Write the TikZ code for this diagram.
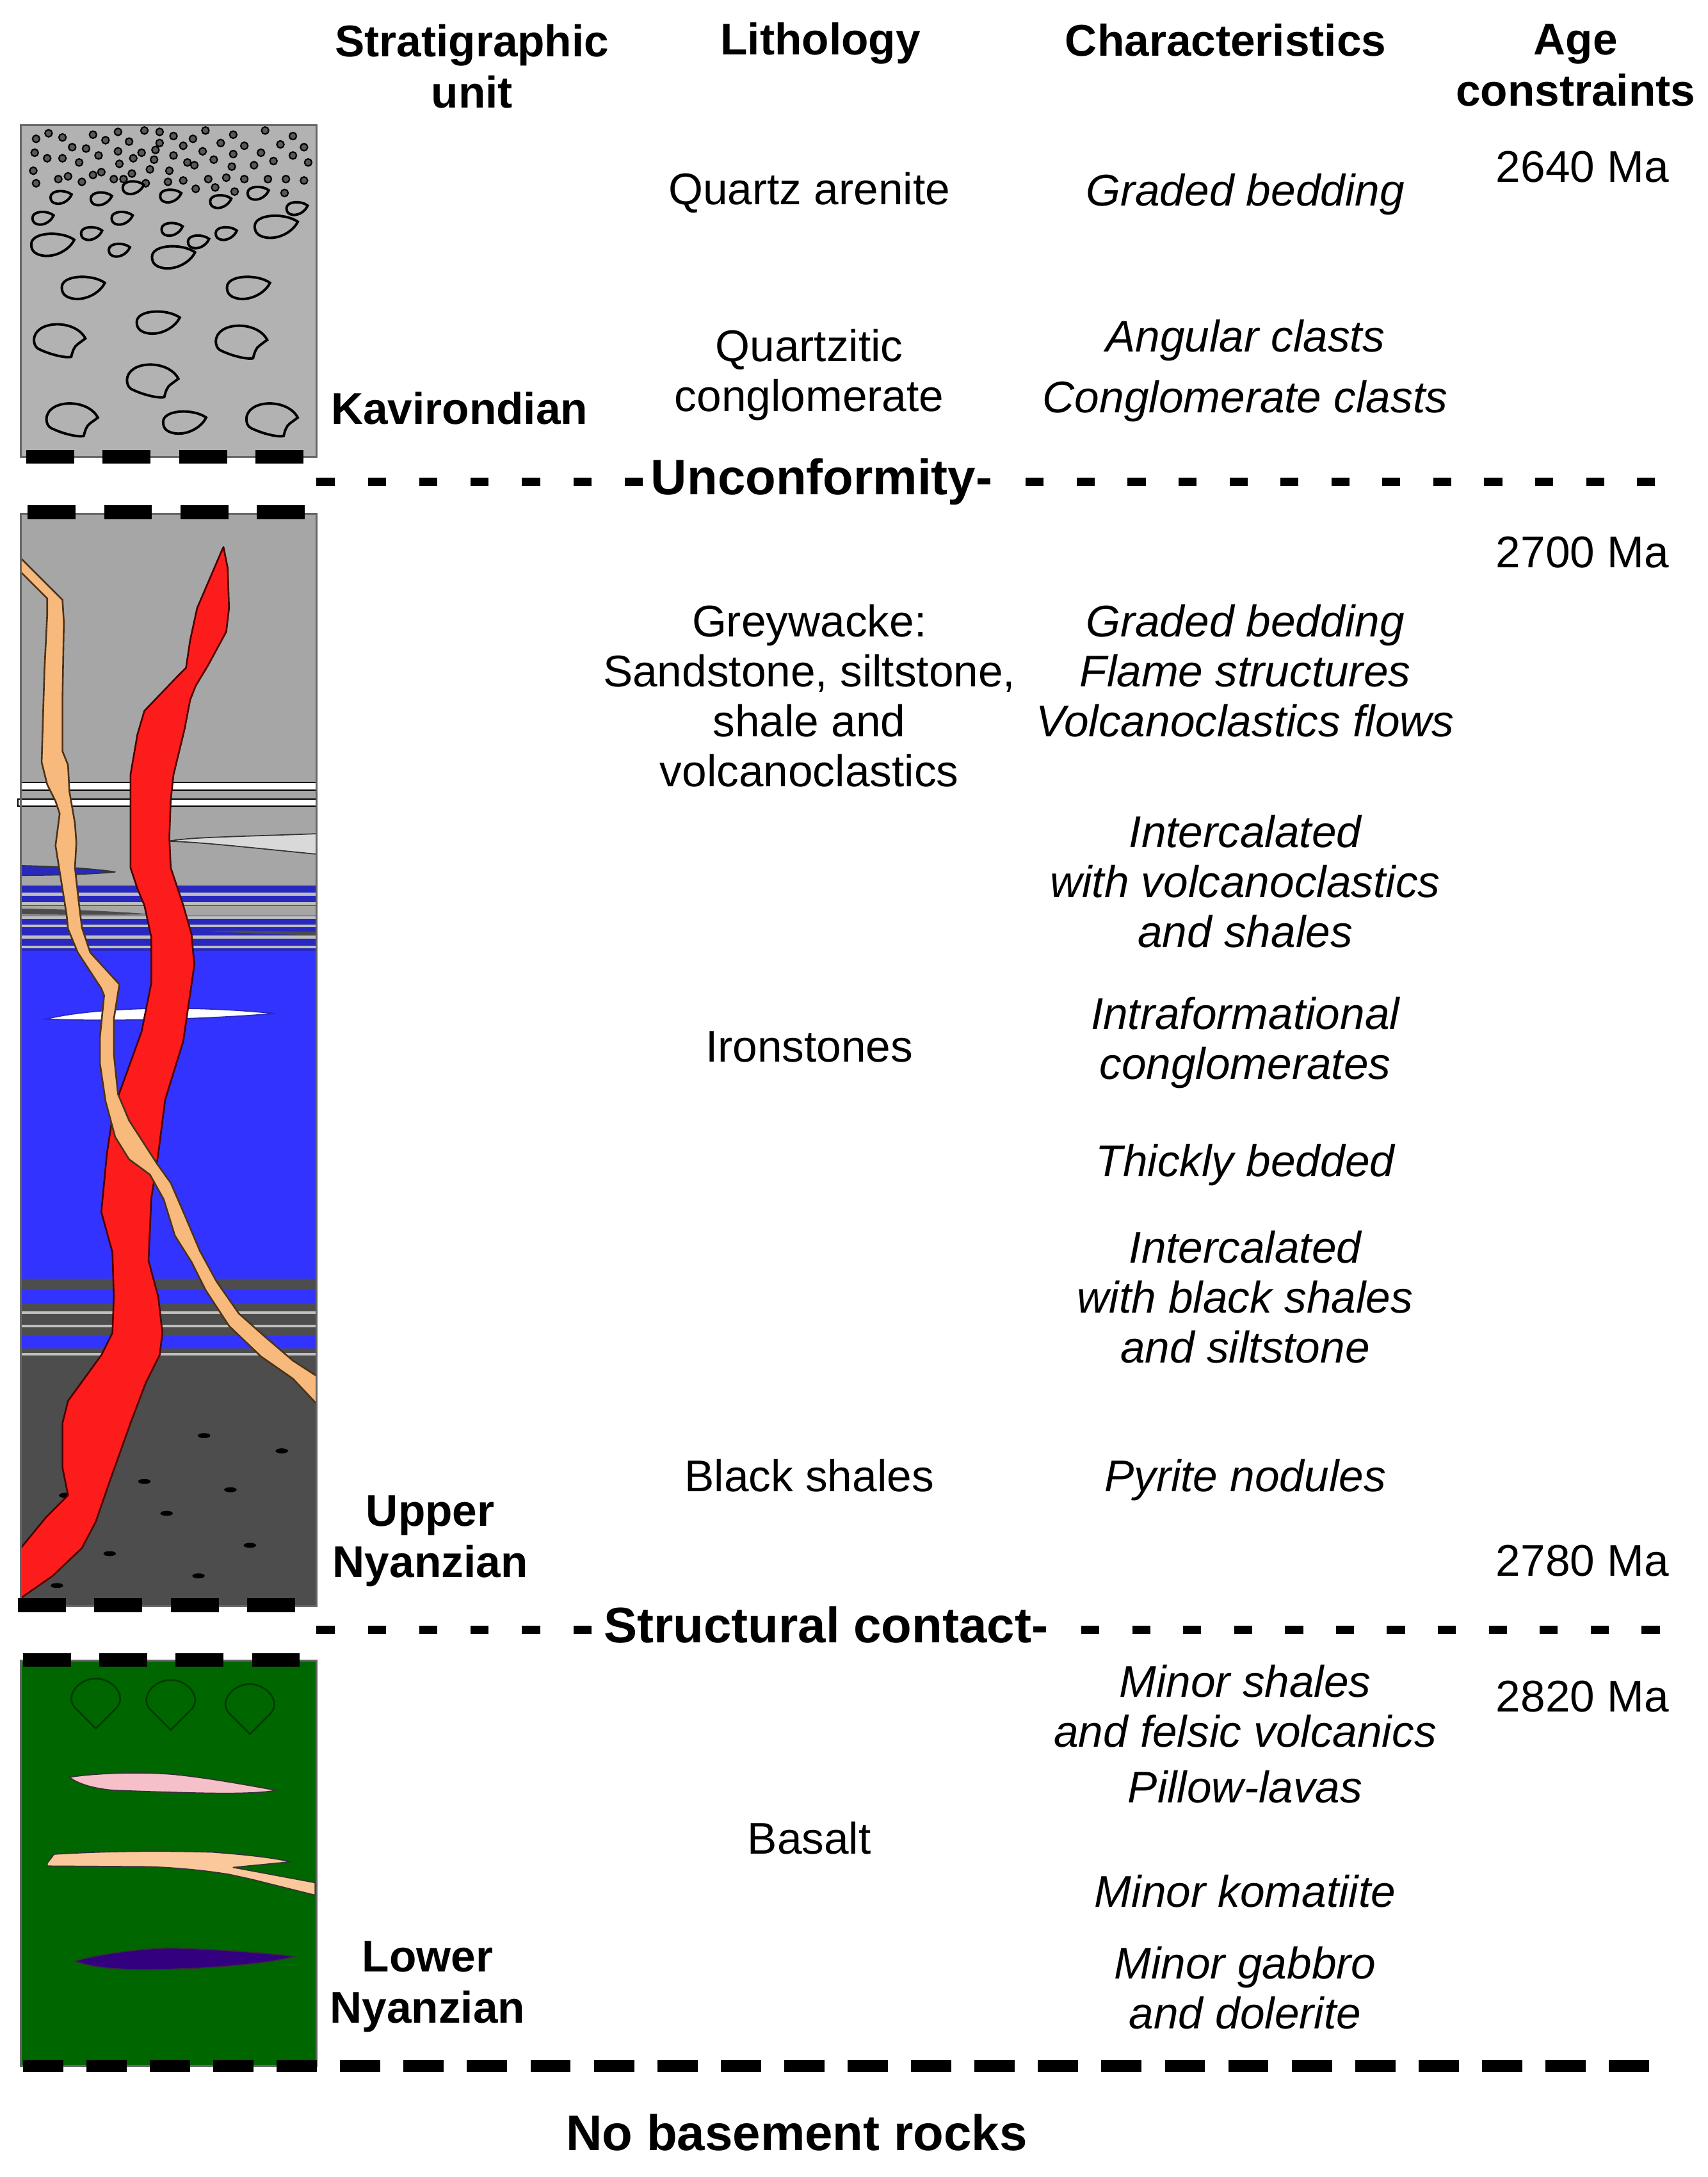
\documentclass[tikz,border=0pt]{standalone}
\usepackage{fontspec}
\setmainfont{Liberation Sans}
\usepackage{tikz}
\definecolor{kavgrey}{RGB}{178,178,178}
\definecolor{greywacke}{RGB}{166,166,166}
\definecolor{ironblue}{RGB}{51,51,255}
\definecolor{bandblue}{RGB}{40,40,190}
\definecolor{blackshale}{RGB}{77,77,77}
\definecolor{dykered}{RGB}{252,28,28}
\definecolor{veintan}{RGB}{247,186,124}
\definecolor{basaltgreen}{RGB}{0,102,0}
\definecolor{pillowgreen}{RGB}{0,60,0}
\definecolor{lenspink}{RGB}{245,192,200}
\definecolor{sillpeach}{RGB}{250,200,155}
\definecolor{gabbro}{RGB}{51,0,128}
\tikzset{
  colhead/.style={font=\fontsize{32}{37}\selectfont\bfseries, align=center, inner sep=0pt},
  litho/.style={font=\fontsize{32}{36}\selectfont, align=center, inner sep=0pt},
  feature/.style={font=\fontsize{32}{36}\selectfont\itshape, align=center, inner sep=0pt},
  contactlabel/.style={font=\fontsize{36}{40}\selectfont\bfseries, inner sep=0pt, text height=26pt, text depth=7.5pt},
  boxdash/.style={line width=10pt, dash pattern=on 34.5pt off 20.5pt},
  leaddash/.style={line width=6pt, dash pattern=on 13pt off 24pt},
  contactline/.style={line width=6pt, dash pattern=on 13pt off 23.7pt, dash phase=13pt},
  basedash/.style={line width=9pt, dash pattern=on 29pt off 16.7pt},
  unitbox/.style={draw=black!60, line width=1.5pt},
  clast/.style={draw=black, line width=1.8pt},
  grain/.style={fill=black!65, draw=black, line width=1pt},
  stripe/.style={draw=black!25, line width=2pt},
  pillow/.style={draw=pillowgreen, line width=1.2pt},
  lens/.style={draw=black!80, line width=0.8pt, line join=round},
}
\begin{document}
\begin{tikzpicture}[x=1pt, y=-1pt]
\useasboundingbox (0,0) rectangle (1230,1568);

% Kavirondian column
\filldraw[fill=kavgrey, unitbox] (15,90) rectangle (228,329);
\foreach \x/\y in {26/100,35/96,45/99,67/97,76/101,85/95,104/94,115/95,125/98,148/94,168/97,191/94,211/98,
  25/110,34/114,45/114,52/106,62/107,57/117,71/112,85/109,93/102,96/114,102/110,112/108,115/103,125/112,
  132/105,139/100,146/109,154/115,159/103,168/111,176/105,188/110,202/104,211/112,219/106,222/117,
  24/123,26/132,42/129,49/127,59/131,67/126,73/124,82/129,86/118,89/129,95/125,105/132,108/122,111/115,
  122/123,121/131,132/130,135/117,140/119,141/136,150/129,155/135,163/128,167/120,169/138,176/129,
  183/119,193/129,197/116,206/129,205/139,219/130}
  \filldraw[grain] (\x,\y) circle[radius=2.6pt];
\foreach \x/\y/\w/\h in {44/142/7.6/9.5,73/143/7.6/9.5,96/135/7.6/9.5,123/141/7.6/9.5,159/145/7.6/9.5,186/139/7.6/9.5,
  214/150/7.6/9.5,31/157/7.6/9.5,88/157/7.6/9.5,66/168/7.6/9.5,124/165/7.6/9.5,163/168/7.6/9.5,143/174/7.6/9.5,86/180/7.6/9.5,
  38/176/15.5/16.5,199/163/15.5/16.5,125/185/15.5/16.5,60/207/15.5/16.5,179/207/15.5/16.5,114/232/15.5/16.5,133/304/15.5/16.5}
  \draw[clast, shift={(\x,\y)}, xscale=\w, yscale=\h] (-1,0) .. controls (-1,-0.55) and (0.4,-0.6) .. (1,-0.2)
    .. controls (0.8,0.2) and (0.2,0.55) .. (-0.4,0.5) .. controls (-0.8,0.45) and (-1,0.3) .. (-1,0) -- cycle;
\foreach \x/\y in {43/245,174/246,110/274,52/302,196/302}
  \draw[clast, shift={(\x,\y)}, xscale=18.5, yscale=24] (-1,0) .. controls (-1,-0.6) and (0.6,-0.65) .. (1,-0.05)
    -- (0.7,0.12) .. controls (0.55,0.2) and (0.5,0.35) .. (0.45,0.5)
    .. controls (0.2,0.55) and (-0.5,0.4) .. (-0.85,0.25) .. controls (-0.95,0.2) and (-1,0.1) .. (-1,0) -- cycle;
\draw[boxdash] (19,329) -- (219,329);

% Upper Nyanzian column
\fill[greywacke] (15,370) rectangle (228,1157);
\filldraw[fill=white, draw=black, line width=1pt] (15,563.5) rectangle (228,569);
\filldraw[fill=white, draw=black, line width=1pt] (13,575.5) rectangle (228,580.5);
\filldraw[fill=black!15, lens] (121,606) .. controls (135,603) and (165,602.8) .. (228,600.5) -- (228,615.2)
  .. controls (181,610.6) and (140,606) .. (121,606) -- cycle;
\filldraw[fill=bandblue, lens] (15,623.5) .. controls (45,624) and (70,626) .. (83,628)
  .. controls (70,629.5) and (40,630.5) .. (15,630.5) -- cycle;
\fill[bandblue] (15,638) rectangle (228,685);
\fill[greywacke] (15,652.6) rectangle (228,659.5);
\foreach \y in {644,651,661,667,675,682}
  \draw[stripe] (15,\y) -- (228,\y);
\fill[black!70] (15,654.5) .. controls (60,655) and (90,657) .. (110,658.5) .. controls (90,659) and (50,659) .. (15,658.5) -- cycle;
\fill[black!70] (150,670.5) .. controls (180,670) and (210,671) .. (228,671) -- (228,673.5) .. controls (200,673) and (170,672) .. (150,670.5) -- cycle;
\fill[ironblue] (15,685) rectangle (228,921);
\filldraw[fill=white, draw=bandblue, line width=0.8pt] (33,734) .. controls (70,725) and (140,724) .. (198,730)
  .. controls (150,734) and (80,736) .. (33,734) -- cycle;
\fill[blackshale] (15,921) rectangle (228,1157);
\fill[ironblue] (15,929) rectangle (228,939);
\fill[ironblue] (15,962) rectangle (228,971);
\foreach \y in {945.5,955,975.5}
  \draw[stripe] (15,\y) -- (228,\y);
\foreach \x/\y in {147/1034,203/1045,104/1067,166/1073,120/1090,180/1113,79/1119,143/1135,41/1142,47/1077}
  \fill[black] (\x,\y) ellipse[x radius=4.5pt, y radius=1.8pt];
% red dyke
\filldraw[fill=dykered, draw=black!70!red, line width=1.2pt, line join=round]
  (161,394) -- (164,409) -- (165,438) -- (163,455) -- (150,479) -- (141,494) -- (137,504) -- (133,525)
  -- (125,558) -- (123,576) -- (122,603) -- (123,625) -- (132,652) -- (138,673) -- (140,695) -- (132,750)
  -- (119,792) -- (114,831) -- (109,863) -- (107,908) -- (114,934) -- (117,960) -- (115,976) -- (105,996)
  -- (94,1025) -- (79,1067) -- (69,1096) -- (59,1115) -- (38,1135) -- (15,1151)
  -- (15,1115) -- (33,1093) -- (49,1077) -- (45,1057) -- (45,1025) -- (49,1009) -- (73,976) -- (81,960)
  -- (82,934) -- (81,902) -- (73,873) -- (77,831) -- (82,798) -- (89,779) -- (102,743) -- (109,708)
  -- (109,675) -- (104,652) -- (99,640) -- (94,625) -- (94,558) -- (99,529) -- (104,512) -- (127,488)
  -- (134,481) -- (137,461) -- (142,438) -- (160,396) -- cycle;
% tan vein
\filldraw[fill=veintan, draw=black!60!brown, line width=1.2pt, line join=round]
  (15,402) -- (45,432) -- (46,448) -- (45,504) -- (45,541) -- (49,551) -- (50,570) -- (54,593) -- (55,607)
  -- (54,625) -- (57,652) -- (59,668) -- (65,686) -- (86,709) -- (82,734) -- (82,759) -- (85,788) -- (93,807)
  -- (113,838) -- (123,852) -- (133,875) -- (144,901) -- (156,923) -- (172,946) -- (190,962) -- (211,980)
  -- (228,991) -- (228,1011) -- (211,993) -- (188,977) -- (165,955) -- (148,929) -- (138,909) -- (126,890)
  -- (118,864) -- (108,846) -- (93,835) -- (83,819) -- (76,793) -- (72,766) -- (72,747) -- (75,717)
  -- (73,712) -- (56,686) -- (49,669) -- (48,659) -- (44,634) -- (40,609) -- (43,586) -- (40,577)
  -- (34,565) -- (30,549) -- (32,483) -- (34,443) -- (34,431) -- (15,412) -- cycle;
\draw[unitbox] (15,370) rectangle (228,1157);
\draw[boxdash] (20,369) -- (220,369);
\draw[boxdash] (13,1156) -- (213,1156);

% Lower Nyanzian column
\filldraw[fill=basaltgreen, unitbox] (15,1196) rectangle (228,1488);
\foreach \x/\y in {69/1227,123/1228,180/1231}
  \draw[pillow, shift={(\x,\y)}, scale=36] (0,0.5) -- (-0.42,0.08) .. controls (-0.62,-0.15) and (-0.35,-0.5) .. (0,-0.5)
    .. controls (0.35,-0.5) and (0.62,-0.15) .. (0.42,0.08) -- cycle;
\filldraw[fill=lenspink, lens] (50,1280) .. controls (70,1277) and (100,1276) .. (125,1278)
  .. controls (150,1280.5) and (180,1286) .. (199,1289.5) .. controls (180,1293) and (140,1291.5) .. (82,1289.5)
  .. controls (65,1288) and (55,1284) .. (50,1280) -- cycle;
\filldraw[fill=sillpeach, lens] (34,1342) -- (39,1335.5) .. controls (80,1333) and (120,1333) .. (153,1334)
  .. controls (180,1336) and (200,1338.5) .. (209,1341) -- (168,1345) -- (227,1356) -- (227,1365)
  -- (181,1353.5) -- (165,1350) .. controls (140,1346) and (120,1345) .. (107,1344.5) -- (34,1344) -- cycle;
\filldraw[fill=gabbro, lens] (54,1412.4) .. controls (70,1408) and (100,1403) .. (125,1403.1)
  .. controls (160,1404) and (195,1407) .. (212.5,1409.1) .. controls (195,1414) and (160,1417) .. (132,1418)
  .. controls (100,1419.5) and (70,1419) .. (54,1412.4) -- cycle;
\draw[boxdash] (16.5,1195.6) -- (216,1195.6);

% column headings
\node[colhead] (unithead) at (340,48) {Stratigraphic\\unit};
\node[colhead] (lithhead) at (591,31) {Lithology};
\node[colhead] (charhead) at (883,29) {Characteristics};
\node[colhead] (agehead) at (1135,47) {Age\\constraints};

% Kavirondian
\node[colhead] (kav) at (331,294) {Kavirondian};
\node[litho] (quartzarenite) at (583,139) {Quartz arenite};
\node[litho] (quartzcong) at (583,270) {Quartzitic\\conglomerate};
\node[feature] (graded1) at (897,140) {Graded bedding};
\node[feature] (angular) at (897,245) {Angular clasts};
\node[feature] (congclasts) at (897,289) {Conglomerate clasts};
\node[litho] (age2640) at (1140,120) {2640 Ma};

% Upper Nyanzian
\node[litho] (age2700) at (1140,398) {2700 Ma};
\node[litho] (greywacke) at (583,501) {Greywacke:\\Sandstone, siltstone,\\shale and\\volcanoclastics};
\node[feature] (graded2) at (897,483) {Graded bedding\\Flame structures\\Volcanoclastics flows};
\node[feature] (intercal1) at (897,635) {Intercalated\\with volcanoclastics\\and shales};
\node[litho] (ironstones) at (583,754) {Ironstones};
\node[feature] (intraform) at (897,751) {Intraformational\\conglomerates};
\node[feature] (thick) at (897,839) {Thickly bedded};
\node[feature] (intercal2) at (897,934) {Intercalated\\with black shales\\and siltstone};
\node[litho] (blackshales) at (583,1063) {Black shales};
\node[feature] (pyrite) at (897,1066) {Pyrite nodules};
\node[colhead] (upper) at (310,1110) {Upper\\Nyanzian};
\node[litho] (age2780) at (1140,1124) {2780 Ma};

% Lower Nyanzian
\node[feature] (minorshales) at (897,1229) {Minor shales\\and felsic volcanics};
\node[litho] (age2820) at (1140,1222) {2820 Ma};
\node[feature] (pillows) at (897,1287) {Pillow-lavas};
\node[litho] (basalt) at (583,1324) {Basalt};
\node[feature] (komatiite) at (897,1362) {Minor komatiite};
\node[colhead] (lower) at (308,1431) {Lower\\Nyanzian};
\node[feature] (gabbro) at (897,1432) {Minor gabbro\\and dolerite};

% contacts
\coordinate (colright) at (228,0);
\coordinate (lineend) at (1196,0);
\node[contactlabel] (unconf) at (592,347) {Unconformity-};
\draw[leaddash] (unconf.west -| colright) -- (unconf.west);
\draw[contactline] (unconf.east) -- (unconf.east -| lineend);
\node[contactlabel] (structural) at (595,1174) {Structural contact-};
\draw[leaddash] (structural.west -| colright) -- (structural.west);
\draw[contactline] (structural.east) -- (structural.east -| lineend);
\coordinate (baseleft) at (16.5,1488);
\coordinate (baseright) at (1196,1488);
\draw[basedash] (baseleft) -- (baseright);
\node[font=\fontsize{36}{40}\selectfont\bfseries, inner sep=0pt] (nobasement) at (574,1536) {No basement rocks};
\end{tikzpicture}
\end{document}
